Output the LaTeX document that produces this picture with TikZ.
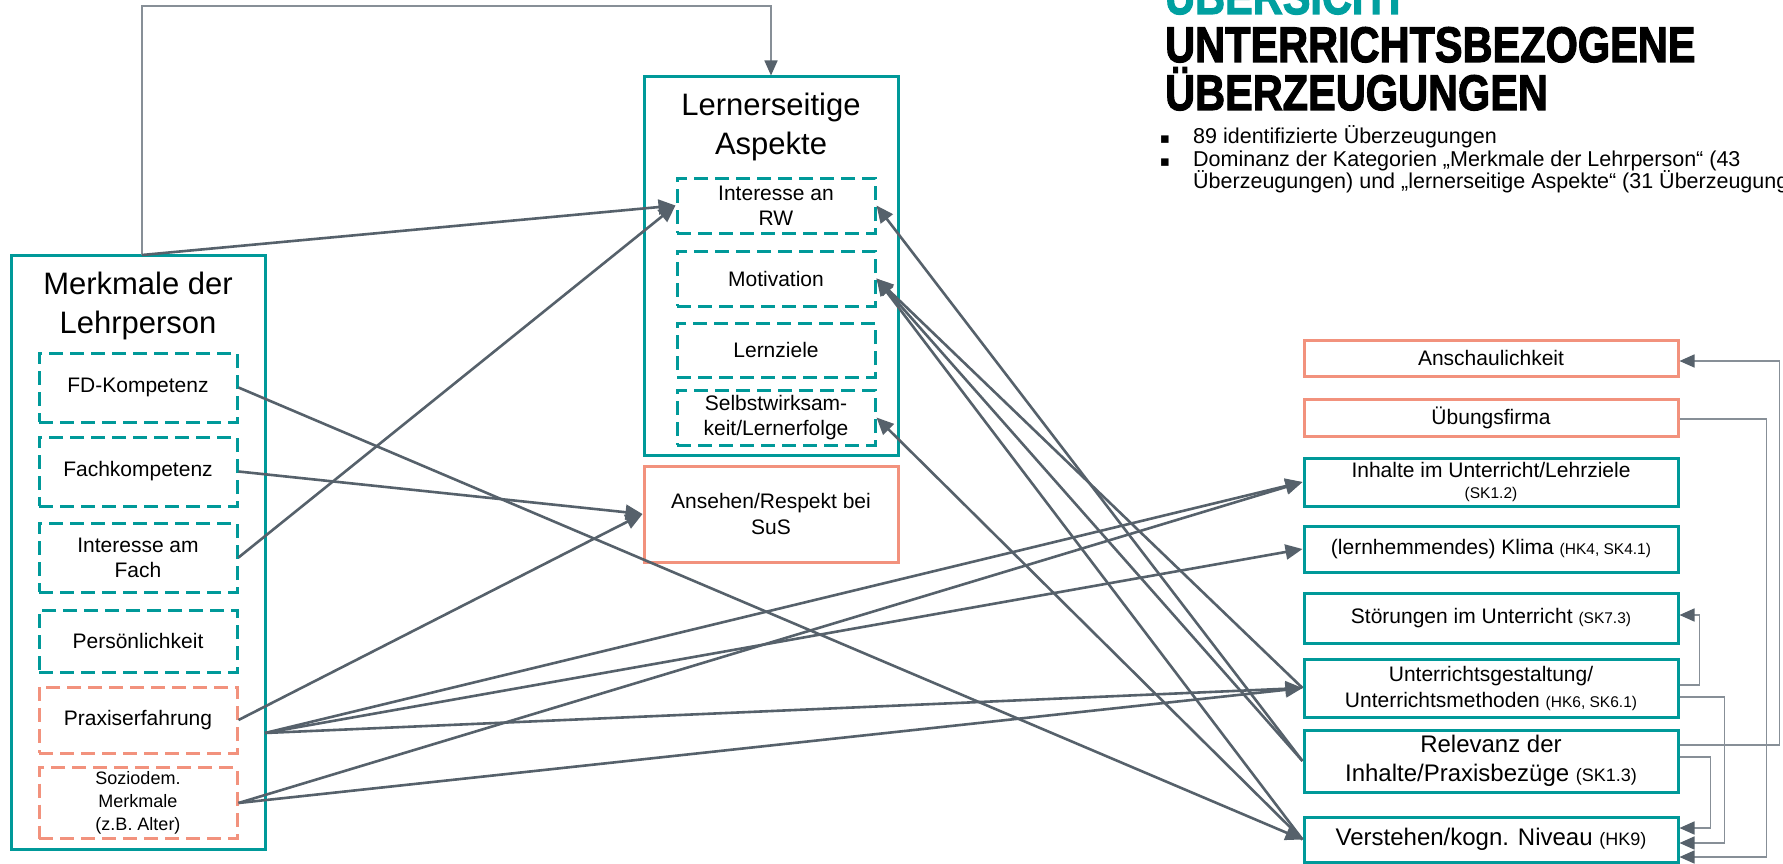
\documentclass[tikz,border=0pt]{standalone}
\usepackage{fontspec}
\usepackage{graphicx}
\setmainfont{Liberation Sans}
\newfontfamily\symfont{DejaVu Sans}
\newfontfamily\headfont[FakeBold=2.5]{Liberation Sans Bold}
\usetikzlibrary{arrows.meta,calc}
\definecolor{teal1}{RGB}{0,153,153}
\definecolor{salm}{RGB}{242,146,125}
\definecolor{conn}{RGB}{86,97,107}
\definecolor{connl}{RGB}{135,143,151}
\definecolor{tealtitle}{RGB}{0,160,160}
\newcommand{\fs}[2]{\fontsize{#1}{#2}\selectfont}
\begin{document}
\begin{tikzpicture}[x=1pt,y=-1pt,
  outerbox/.style={draw=teal1, line width=3pt, minimum width=254pt, inner sep=0pt},
  ibox/.style={draw=teal1, line width=3pt, dash pattern=on 14pt off 7pt, minimum width=198pt, inner sep=0pt, align=center, font=\fs{21}{25}},
  sbox/.style={ibox, draw=salm},
  rbox/.style={draw=teal1, line width=3pt, minimum width=374pt, inner sep=0pt, align=center, font=\fs{21}{26}},
  rsbox/.style={rbox, draw=salm},
  ttl/.style={align=center, inner sep=0pt, font=\fs{31}{39}},
  conn/.style={draw=conn, line width=2.6pt, -{Triangle[length=17pt,width=15pt]}},
  ortho/.style={draw=connl, line width=1.6pt, -{Triangle[length=15pt,width=13pt,color=conn]}},
  bul/.style={anchor=base west, inner sep=0pt, font=\fs{21.5}{22.5}},
  dot/.style={anchor=base, inner sep=0pt, font=\symfont\fs{15}{15}},
  head/.style={anchor=base west, inner sep=0pt, font=\headfont\fs{50}{50}}
]
\useasboundingbox (0,0) rectangle (1783,864);
\clip (0,0) rectangle (1783,864);
\fill[white] (0,0) rectangle (1783,864);

% heading
\node[head, text=tealtitle] (h0) at (1165,14) {\scalebox{0.83}[1]{ÜBERSICHT}};
\node[head] (h1) at (1165,62) {\scalebox{0.83}[1]{UNTERRICHTSBEZOGENE}};
\node[head] (h2) at (1165,110) {\scalebox{0.83}[1]{ÜBERZEUGUNGEN}};
\node[dot] (d1) at (1165,143.5) {▪};
\node[dot] (d2) at (1165,166) {▪};
\node[bul] (b1) at (1193,143.5) {89 identifizierte Überzeugungen};
\node[bul] (b2) at (1193,166) {Dominanz der Kategorien „Merkmale der Lehrperson“ (43};
\node[bul] (b3) at (1193,188.5) {Überzeugungen) und „lernerseitige Aspekte“ (31 Überzeugungen)};

% Merkmale der Lehrperson
\node[outerbox, minimum height=594pt] (merk) at (138,552) {};
\node[ttl] (merkt) at (138,306) {Merkmale der\\Lehrperson};
\node[ibox, minimum height=69pt] (fd) at (138,387.5) {FD-Kompetenz};
\node[ibox, minimum height=69pt] (fach) at (138,471.5) {Fachkompetenz};
\node[ibox, minimum height=69pt] (intfach) at (138,557.5) {Interesse am\\Fach};
\node[ibox, minimum height=62pt] (pers) at (138,641) {Persönlichkeit};
\node[sbox, minimum height=66pt] (praxis) at (138,720) {Praxiserfahrung};
\node[sbox, minimum height=71pt, font=\fs{18}{23}] (sozio) at (138,803) {Soziodem.\\Merkmale\\(z.B. Alter)};

% Lernerseitige Aspekte
\node[outerbox, minimum height=378pt] (lern) at (771,266) {};
\node[ttl] (lernt) at (771,127) {Lernerseitige\\Aspekte};
\node[ibox, minimum height=55pt] (irw) at (776,205.5) {Interesse an\\RW};
\node[ibox, minimum height=55pt] (motiv) at (776,278.5) {Motivation};
\node[ibox, minimum height=54pt] (lernz) at (776,350) {Lernziele};
\node[ibox, minimum height=55pt] (selbst) at (776,417.5) {Selbstwirksam-\\keit/Lernerfolge};
\node[draw=salm, line width=3pt, minimum width=254pt, minimum height=96pt, inner sep=0pt, align=center, font=\fs{21}{26}] (ans) at (771,514) {Ansehen/Respekt bei\\SuS};

% right column
\node[rsbox, minimum height=36pt] (ansch) at (1491,358) {Anschaulichkeit};
\node[rsbox, minimum height=37pt] (uebung) at (1491,417.5) {Übungsfirma};
\node[rbox, minimum height=48pt, font=\fs{21}{21}] (inh) at (1491,482) {Inhalte im Unterricht/Lehrziele\\{\fs{15.5}{18}(SK1.2)}};
\node[rbox, minimum height=46pt] (klima) at (1491,549) {(lernhemmendes) Klima {\fs{15.5}{18}(HK4, SK4.1)}};
\node[rbox, minimum height=50pt] (stoer) at (1491,618) {Störungen im Unterricht {\fs{15.5}{18}(SK7.3)}};
\node[rbox, minimum height=58pt] (ugest) at (1491,688) {Unterrichtsgestaltung/\\Unterrichtsmethoden {\fs{15.5}{18}(HK6, SK6.1)}};
\node[rbox, minimum height=62pt, font=\fs{24}{29}] (relev) at (1491,761) {Relevanz der\\Inhalte/Praxisbezüge {\fs{18}{20}(SK1.3)}};
\node[rbox, minimum height=45pt, font=\fs{24}{29}] (verst) at (1491,839.5) {Verstehen/kogn. Niveau {\fs{18}{20}(HK9)}};

% helper coordinates
\coordinate (topy) at (0,6);
\coordinate (mtop) at (142,255);
\coordinate (bundle) at (265,733);

% top elbow
\draw[ortho] (mtop) -- (mtop |- topy) -| (lern.north);

% connectors
\draw[conn] (mtop) -- (irw.west);
\draw[conn] (intfach.east) -- (irw.west);
\draw[conn] (fach.east) -- (ans.west);
\draw[conn] (praxis.east) -- (ans.west);
\draw[conn] (fd.east) -- (verst.west);

\draw[conn] (bundle) -- (inh.west);
\draw[conn] (bundle) -- (klima.west);
\draw[conn] (bundle) -- (ugest.west);
\draw[conn] (sozio.east) -- (inh.west);
\draw[conn] (sozio.east) -- (ugest.west);

\draw[conn] (ugest.west) -- (motiv.east);
\draw[conn] (relev.west) -- (motiv.east);
\draw[conn] (verst.west) -- (motiv.east);
\draw[conn] (relev.west) -- (irw.east);
\draw[conn] (verst.west) -- (selbst.east);

% right orthogonal connectors
\draw[ortho] ($(ugest.east)+(0,-3)$) -- ++(20,0) |- ($(stoer.east)+(0,-3)$);
\draw[ortho] ($(ugest.east)+(0,9)$) -- ++(45,0) |- ($(verst.east)+(0,3.5)$);
\draw[ortho] ($(relev.east)+(0,-16)$) -- ++(100,0) |- ($(ansch.east)+(0,3)$);
\draw[ortho] ($(relev.east)+(0,-4)$) -- ++(31,0) |- ($(verst.east)+(0,-11.5)$);
\draw[ortho] ($(uebung.east)+(0,1.5)$) -- ++(87,0) |- ($(verst.east)+(0,17.5)$);
\end{tikzpicture}
\end{document}
